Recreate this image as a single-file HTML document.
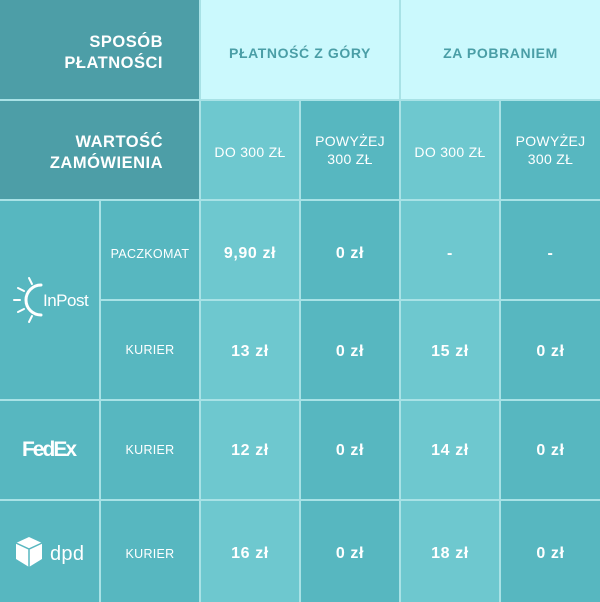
<!DOCTYPE html><html><head><meta charset="utf-8"><style>
body{margin:0;width:600px;height:602px;position:relative;background:#a8e2e6;font-family:"Liberation Sans","DejaVu Sans",sans-serif;overflow:hidden}
.c{position:absolute;display:flex;align-items:center;justify-content:center;text-align:center;color:#fff;font-size:14px;line-height:18px;letter-spacing:0.3px;box-sizing:border-box}
.d{background:#4d9ea7}.t{background:#cbf9fd;color:#4a9ea6;font-weight:bold;font-size:14px;letter-spacing:0.6px;padding-top:6px}
.l{background:#6ec8cf}.k{background:#57b7c0}
.b{font-weight:bold;font-size:16px;letter-spacing:0.6px}
.s{font-size:12.5px}
</style></head><body>
<div class="c d" style="left:0;top:0;width:199px;height:99px;justify-content:flex-end;text-align:right;font-weight:bold;font-size:16.5px;line-height:21px;letter-spacing:0.5px;padding-top:6px"><div style="padding-right:36px">SPOSÓB<br>PŁATNOŚCI</div></div>
<div class="c t" style="left:201px;top:0;width:198px;height:99px">PŁATNOŚĆ Z GÓRY</div>
<div class="c t" style="left:401px;top:0;width:199px;height:99px">ZA POBRANIEM</div>
<div class="c d" style="left:0;top:101px;width:199px;height:98px;justify-content:flex-end;text-align:right;font-weight:bold;font-size:16.5px;line-height:21px;letter-spacing:0.5px;padding-top:6px"><div style="padding-right:36px">WARTOŚĆ<br>ZAMÓWIENIA</div></div>
<div class="c l" style="left:201px;top:101px;width:98px;height:98px;padding-top:4px">DO 300 ZŁ</div>
<div class="c k" style="left:301px;top:101px;width:98px;height:98px">POWYŻEJ<br>300 ZŁ</div>
<div class="c l" style="left:401px;top:101px;width:98px;height:98px;padding-top:4px">DO 300 ZŁ</div>
<div class="c k" style="left:501px;top:101px;width:99px;height:98px">POWYŻEJ<br>300 ZŁ</div>

<div class="c k" style="left:0;top:201px;width:99px;height:198px"><svg width="90" height="50" viewBox="0 0 90 50"><g stroke="#fff" stroke-width="2" fill="none" stroke-linecap="round"><path d="M24 3 L27 9"/><path d="M13 13 L19 16"/><path d="M9 25 L15 25"/><path d="M13 37 L19 34"/><path d="M24 47 L27 41"/><path d="M36 10 A15 15 0 0 0 36 40" stroke-width="3"/></g><text x="38" y="31" fill="#fff" font-size="17" font-family="Liberation Sans" letter-spacing="-0.5">InPost</text></svg></div>
<div class="c k s" style="left:101px;top:201px;width:98px;height:98px;align-items:flex-start"><div style="margin-top:44px">PACZKOMAT</div></div>
<div class="c k s" style="left:101px;top:301px;width:98px;height:98px">KURIER</div>
<div class="c l b" style="left:201px;top:201px;width:98px;height:98px;padding-top:8px">9,90 zł</div>
<div class="c k b" style="left:301px;top:201px;width:98px;height:98px;padding-top:8px">0 zł</div>
<div class="c l b" style="left:401px;top:201px;width:98px;height:98px;padding-top:8px">-</div>
<div class="c k b" style="left:501px;top:201px;width:99px;height:98px;padding-top:8px">-</div>
<div class="c l b" style="left:201px;top:301px;width:98px;height:98px;padding-top:4px">13 zł</div>
<div class="c k b" style="left:301px;top:301px;width:98px;height:98px;padding-top:4px">0 zł</div>
<div class="c l b" style="left:401px;top:301px;width:98px;height:98px;padding-top:4px">15 zł</div>
<div class="c k b" style="left:501px;top:301px;width:99px;height:98px;padding-top:4px">0 zł</div>

<div class="c k" style="left:0;top:401px;width:99px;height:98px;font-weight:bold;font-size:21px;letter-spacing:-2px;padding-right:2px">FedEx</div>
<div class="c k s" style="left:101px;top:401px;width:98px;height:98px">KURIER</div>
<div class="c l b" style="left:201px;top:401px;width:98px;height:98px;padding-top:2px">12 zł</div>
<div class="c k b" style="left:301px;top:401px;width:98px;height:98px;padding-top:2px">0 zł</div>
<div class="c l b" style="left:401px;top:401px;width:98px;height:98px;padding-top:2px">14 zł</div>
<div class="c k b" style="left:501px;top:401px;width:99px;height:98px;padding-top:2px">0 zł</div>

<div class="c k" style="left:0;top:501px;width:99px;height:101px"><svg width="72" height="34" viewBox="0 0 72 34"><path d="M15 2 L28 8 L28 24 L15 32 L2 24 L2 8 Z" fill="#fff"/><path d="M2 8 L15 14 L28 8 M15 14 L15 32" stroke="#57b7c0" stroke-width="1.5" fill="none"/><text x="36" y="25" fill="#fff" font-size="20" font-family="Liberation Sans">dpd</text></svg></div>
<div class="c k s" style="left:101px;top:501px;width:98px;height:101px;padding-top:4px">KURIER</div>
<div class="c l b" style="left:201px;top:501px;width:98px;height:101px;padding-top:4px">16 zł</div>
<div class="c k b" style="left:301px;top:501px;width:98px;height:101px;padding-top:4px">0 zł</div>
<div class="c l b" style="left:401px;top:501px;width:98px;height:101px;padding-top:4px">18 zł</div>
<div class="c k b" style="left:501px;top:501px;width:99px;height:101px;padding-top:4px">0 zł</div>
</body></html>
